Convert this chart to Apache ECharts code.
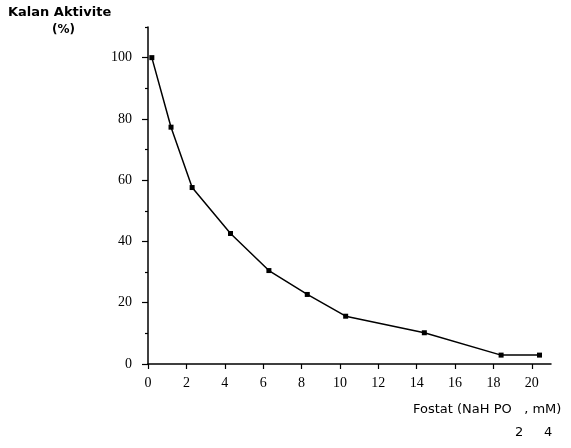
<!DOCTYPE html>
<html>
<head>
<meta charset="utf-8">
<script src="https://cdn.jsdelivr.net/npm/echarts@6/dist/echarts.min.js"></script>
<style>html,body{margin:0;padding:0;background:#fff}#c{width:571px;height:448px}</style>
</head>
<body>
<div id="c"></div>
<script>
var phosphateMM = [0.2, 1.2, 2.3, 4.3, 6.3, 8.3, 10.3, 14.4, 18.4, 20.4];
var remainingActivity = [100, 77.3, 57.6, 42.6, 30.5, 22.7, 15.6, 10.2, 2.9, 2.9];
var xTicks = [0, 2, 4, 6, 8, 10, 12, 14, 16, 18, 20];
var yTicks = [0, 20, 40, 60, 80, 100];
var yMinorTicks = [10, 30, 50, 70, 90, 110];

var chart = echarts.init(document.getElementById('c'));
var pts = phosphateMM.map(function (x, i) { return [x, remainingActivity[i]]; });
var numFont = 'Liberation Serif';
chart.setOption({
  animation: false,
  backgroundColor: '#fff',
  grid: { left: 148, right: 20, top: 27, bottom: 84 },
  xAxis: {
    type: 'value', min: 0, max: 21,
    splitLine: { show: false },
    axisLine: { lineStyle: { color: '#000', width: 1.5 } },
    axisTick: { customValues: xTicks, length: 5, lineStyle: { color: '#000', width: 1.2 } },
    axisLabel: { customValues: xTicks, color: '#000', fontFamily: numFont, fontSize: 14, margin: 12 }
  },
  yAxis: [{
    type: 'value', min: 0, max: 110,
    splitLine: { show: false },
    axisLine: { show: true, lineStyle: { color: '#000', width: 1.5 } },
    axisTick: { show: true, customValues: yTicks, length: 6, lineStyle: { color: '#000', width: 1.2 } },
    axisLabel: { customValues: yTicks, color: '#000', fontFamily: numFont, fontSize: 14, margin: 16 }
  }, {
    type: 'value', min: 0, max: 110, position: 'left',
    splitLine: { show: false },
    axisLine: { show: false },
    axisTick: { show: true, customValues: yMinorTicks, length: 3, lineStyle: { color: '#000', width: 1.2 } },
    axisLabel: { show: false }
  }],
  series: [{
    type: 'line', data: pts, yAxisIndex: 0,
    symbol: 'rect', symbolSize: 5,
    itemStyle: { color: '#000' },
    lineStyle: { color: '#000', width: 1.5 }
  }],
  graphic: [
    { type: 'text', left: 8, top: 6, style: { text: 'Kalan Aktivite', font: 'bold 13px "DejaVu Sans"', fill: '#000' } },
    { type: 'text', left: 52, top: 24, style: { text: '(%)', font: 'bold 12px "DejaVu Sans"', fill: '#000' } },
    { type: 'text', left: 413, top: 403, style: { text: 'Fostat (NaH PO   , mM)', font: '13px "DejaVu Sans"', fill: '#000' } },
    { type: 'text', left: 515, top: 426, style: { text: '2', font: '13px "DejaVu Sans"', fill: '#000' } },
    { type: 'text', left: 544, top: 426, style: { text: '4', font: '13px "DejaVu Sans"', fill: '#000' } }
  ]
});
</script>
</body>
</html>
